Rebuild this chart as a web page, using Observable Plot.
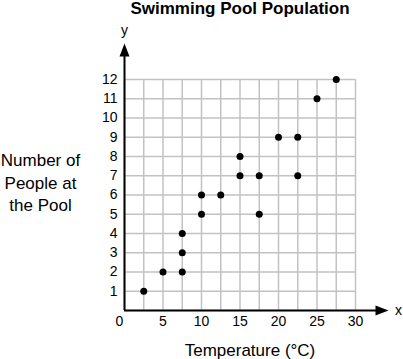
<!DOCTYPE html>
<html>
<head>
<meta charset="utf-8">
<script src="https://cdn.jsdelivr.net/npm/d3@7"></script>
<script src="https://cdn.jsdelivr.net/npm/@observablehq/plot@0.6"></script>
<style>
  html, body { margin: 0; padding: 0; background: #fff; }
  svg { font-family: "Liberation Sans", Arial, sans-serif; display: block; }
</style>
</head>
<body>
<div id="chart"></div>
<script>
const title = "Swimming Pool Population";
const xLabel = "Temperature (°C)";
const yLabel = "Number of\nPeople at\nthe Pool";
const temperature = [2.5, 5, 7.5, 7.5, 7.5, 10, 10, 12.5, 15, 15, 17.5, 17.5, 20, 22.5, 22.5, 25, 27.5];
const people      = [1,   2, 2,   3,   4,   5,  6,  6,    7,  8,  7,    5,    9,  9,    7,    11, 12];
const gridX = [0, 2.5, 5, 7.5, 10, 12.5, 15, 17.5, 20, 22.5, 25, 27.5, 30];
const gridY = [0, 1, 2, 3, 4, 5, 6, 7, 8, 9, 10, 11, 12];
const xTickLabels = [5, 10, 15, 20, 25, 30];
const yTickLabels = [1, 2, 3, 4, 5, 6, 7, 8, 9, 10, 11, 12];

const data = temperature.map((t, i) => ({t, n: people[i]}));

const arrowHead = {
  draw(context) {
    context.moveTo(0, 0);
    context.lineTo(-5, 13);
    context.lineTo(5, 13);
    context.closePath();
  }
};

const txt = {lineAnchor: "middle", fill: "#000"};

const chart = Plot.plot({
  width: 403,
  height: 359,
  marginLeft: 124,
  marginRight: 48,
  marginTop: 79,
  marginBottom: 49,
  x: {domain: [0, 30], axis: null},
  y: {domain: [0, 12], axis: null},
  style: {background: "#fff", color: "#000"},
  marks: [
    Plot.ruleX(gridX, {y1: 0, y2: 12, stroke: "#c2c2c2", strokeWidth: 1.5}),
    Plot.ruleY(gridY, {x1: 0, x2: 30, stroke: "#c2c2c2", strokeWidth: 1.5}),
    Plot.ruleY([0], {x1: 0, x2: 33, stroke: "#000", strokeWidth: 2}),
    Plot.ruleX([0], {y1: 0, y2: 13.4, stroke: "#000", strokeWidth: 2}),
    Plot.dot([0], {frameAnchor: "top-left", dy: -36, symbol: arrowHead, fill: "#000", stroke: "none"}),
    Plot.dot([0], {frameAnchor: "bottom-right", dx: 33, rotate: 90, symbol: arrowHead, fill: "#000", stroke: "none"}),
    Plot.text(yTickLabels, {...txt, y: d => d, frameAnchor: "left", dx: -7, textAnchor: "end", fontSize: 14}),
    Plot.text(xTickLabels, {...txt, x: d => d, frameAnchor: "bottom", dy: 11, fontSize: 14}),
    Plot.text(["0"], {...txt, frameAnchor: "bottom-left", dx: -5, dy: 11, textAnchor: "middle", fontSize: 14}),
    Plot.text(["y"], {...txt, frameAnchor: "top-left", dy: -49, textAnchor: "middle", fontSize: 14}),
    Plot.text(["x"], {...txt, frameAnchor: "bottom-right", dx: 43, textAnchor: "middle", fontSize: 14}),
    Plot.text([title], {...txt, frameAnchor: "top", dy: -71, fontSize: 17, fontWeight: "bold"}),
    Plot.text([xLabel], {...txt, frameAnchor: "bottom", dx: 10, dy: 40, fontSize: 17}),
    Plot.text([yLabel], {...txt, frameAnchor: "left", dx: -84, dy: -13.5, textAnchor: "middle", fontSize: 17, lineHeight: 1.3}),
    Plot.dot(data, {x: "t", y: "n", r: 3.5, fill: "#000", stroke: "none"})
  ]
});
document.getElementById("chart").appendChild(chart);
</script>
</body>
</html>
